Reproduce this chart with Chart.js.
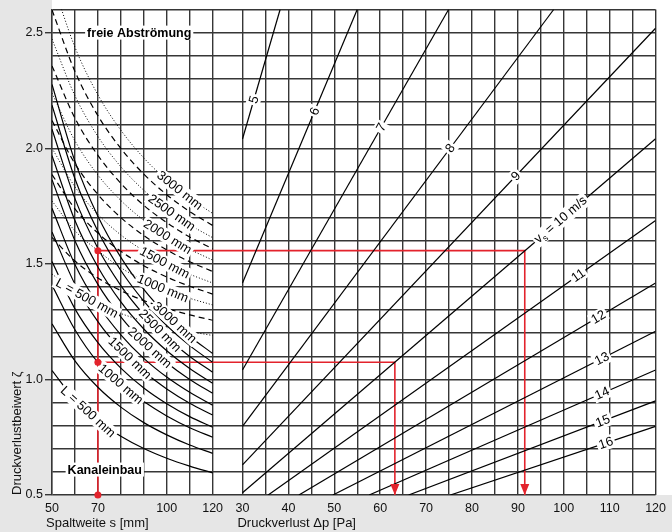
<!DOCTYPE html>
<html>
<head>
<meta charset="utf-8">
<script src="https://cdn.jsdelivr.net/npm/chart.js@4/dist/chart.umd.min.js"></script>
<style>
  html, body { margin: 0; padding: 0; background: #fff; }
  #wrap { width: 672px; height: 532px; }
</style>
</head>
<body>
<div id="wrap"><canvas id="c" width="672" height="532"></canvas></div>
<script>
// ---- axes ---------------------------------------------------------------
const gapTicks = [50, 60, 70, 80, 90, 100, 110, 120];          // Spaltweite s [mm]
const gapTickLabels = [50, 70, 100, 120];
const dpTicks = [30, 35, 40, 45, 50, 55, 60, 65, 70, 75, 80, 85, 90, 95, 100, 105, 110, 115, 120]; // Δp [Pa]
const dpTickLabels = [30, 40, 50, 60, 70, 80, 90, 100, 110, 120];
const zetaTicks = [0.5, 0.6, 0.7, 0.8, 0.9, 1.0, 1.1, 1.2, 1.3, 1.4, 1.5, 1.6, 1.7, 1.8, 1.9, 2.0, 2.1, 2.2, 2.3, 2.4, 2.5, 2.6];
const zetaTickLabels = [0.5, 1.0, 1.5, 2.0, 2.5];

// ---- left block: ζ over gap width s, one curve per slot length L --------
const gapWidths = [50, 60, 70, 80, 90, 100, 110, 120];

// built into a duct (solid)
const ductLengths = [500, 750, 1000, 1250, 1500, 1750, 2000, 2250, 2500, 2750, 3000];
const ductZeta = [
  [1.038, 0.912, 0.821, 0.754, 0.701, 0.659, 0.625, 0.596],
  [1.240, 1.080, 0.966, 0.880, 0.813, 0.760, 0.716, 0.680],
  [1.408, 1.215, 1.074, 0.980, 0.904, 0.842, 0.791, 0.750],
  [1.510, 1.305, 1.159, 1.049, 0.963, 0.895, 0.839, 0.793],
  [1.638, 1.412, 1.250, 1.129, 1.034, 0.959, 0.897, 0.846],
  [1.740, 1.497, 1.323, 1.193, 1.091, 1.010, 0.944, 0.888],
  [1.864, 1.600, 1.411, 1.270, 1.160, 1.072, 1.000, 0.940],
  [1.968, 1.687, 1.486, 1.335, 1.218, 1.124, 1.047, 0.983],
  [2.082, 1.782, 1.567, 1.406, 1.281, 1.181, 1.099, 1.031],
  [2.186, 1.868, 1.641, 1.471, 1.339, 1.233, 1.146, 1.074],
  [2.276, 1.943, 1.706, 1.528, 1.389, 1.278, 1.187, 1.112]
];
const ductLabelLengths = [500, 1000, 1500, 2000, 2500, 3000];
const ductLabelGap = [65.7, 80.0, 83.9, 92.6, 97.0, 103.5];

// free discharge (dotted: labelled lengths, dashed: lengths in between)
const freeLengths = [500, 750, 1000, 1250, 1500, 1750, 2000, 2250, 2500, 2750, 3000];
const freeZeta = [
  [1.456, 1.380, 1.326, 1.285, 1.253, 1.228, 1.207, 1.190],
  [1.614, 1.512, 1.439, 1.384, 1.341, 1.307, 1.279, 1.256],
  [1.772, 1.643, 1.557, 1.483, 1.429, 1.386, 1.351, 1.322],
  [1.886, 1.738, 1.633, 1.554, 1.492, 1.443, 1.403, 1.369],
  [2.000, 1.833, 1.714, 1.625, 1.556, 1.500, 1.455, 1.417],
  [2.120, 1.933, 1.800, 1.700, 1.622, 1.560, 1.509, 1.467],
  [2.238, 2.032, 1.884, 1.774, 1.688, 1.619, 1.563, 1.516],
  [2.356, 2.130, 1.969, 1.848, 1.753, 1.678, 1.616, 1.565],
  [2.472, 2.227, 2.051, 1.920, 1.818, 1.736, 1.669, 1.613],
  [2.598, 2.332, 2.141, 1.999, 1.888, 1.799, 1.726, 1.666],
  [2.724, 2.437, 2.231, 2.078, 1.958, 1.862, 1.784, 1.718]
];
const freeLabelLengths = [500, 1000, 1500, 2000, 2500, 3000];
const freeLabelGap = [65.2, 98.3, 99.1, 100.4, 102.2, 105.7];

// ---- right block: Δp over ζ, one line per slot velocity v_s -------------
const velocities = [5, 6, 7, 8, 9, 10, 11, 12, 13, 14, 15, 16];
const lineStartDp   = [30, 30, 30, 30, 30, 30, 35.6, 42.3, 49.7, 57.6, 66.2, 75.3];
const lineStartZeta = [2.04, 1.417, 1.041, 0.797, 0.630, 0.510, 0.5, 0.5, 0.5, 0.5, 0.5, 0.5];
const lineEndDp     = [38.2, 55.0, 74.9, 97.8, 120, 120, 120, 120, 120, 120, 120, 120];
const lineEndZeta   = [2.6, 2.6, 2.6, 2.6, 2.519, 2.041, 1.687, 1.417, 1.208, 1.041, 0.907, 0.797];
const lineLabelZeta = [2.21, 2.16, 2.09, 2.0, 1.88, 1.69, 1.45, 1.27, 1.09, 0.94, 0.82, 0.725];

// ---- worked example (s = 70 mm, L = 1000 mm, v_s = 10 m/s) --------------
const exampleGap = 70;
const exampleZetaFree = 1.557;
const exampleZetaDuct = 1.074;
const exampleDpFree = 91.5;
const exampleDpDuct = 63.2;

// ---- one shared horizontal scale: left block in mm, right block in Pa ---
const BLOCK_GAP = 1.3;                        // empty strip between both blocks
const sx = s => (s - 50) / 10;                // mm -> scale units
const px = p => 7 + BLOCK_GAP + (p - 30) / 5; // Pa -> scale units

const FONT = '"Liberation Sans", Arial, Helvetica, sans-serif';
const GRID = '#363636';
const RED = '#e3232c';

const xTickValues = gapTicks.map(sx).concat(dpTicks.map(px));
const xTickText = gapTicks.map(s => gapTickLabels.includes(s) ? String(s) : '')
  .concat(dpTicks.map(p => dpTickLabels.includes(p) ? String(p) : ''));

const datasets = [];
const plain = { pointRadius: 0, borderColor: '#000', borderWidth: 1.2, fill: false, parsing: false };

ductZeta.forEach(row => {
  datasets.push(Object.assign({}, plain, {
    data: row.map((z, j) => ({ x: sx(gapWidths[j]), y: z })),
    cubicInterpolationMode: 'monotone'
  }));
});
freeZeta.forEach((row, i) => {
  const dotted = freeLabelLengths.includes(freeLengths[i]);
  datasets.push(Object.assign({}, plain, {
    data: row.map((z, j) => ({ x: sx(gapWidths[j]), y: z })),
    cubicInterpolationMode: 'monotone',
    borderWidth: dotted ? 1 : 1.2,
    borderDash: dotted ? [1, 2] : [6, 4]
  }));
});
velocities.forEach((v, i) => {
  datasets.push(Object.assign({}, plain, {
    data: [{ x: px(lineStartDp[i]), y: lineStartZeta[i] }, { x: px(lineEndDp[i]), y: lineEndZeta[i] }]
  }));
});
// example path
const redLine = { pointRadius: 0, borderColor: RED, borderWidth: 1.6, fill: false, parsing: false };
datasets.push(Object.assign({}, redLine, {
  data: [{ x: sx(exampleGap), y: 0.5 }, { x: sx(exampleGap), y: exampleZetaFree }]
}));
datasets.push(Object.assign({}, redLine, {
  data: [{ x: sx(exampleGap), y: exampleZetaFree }, { x: px(exampleDpFree), y: exampleZetaFree }, { x: px(exampleDpFree), y: 0.5 }]
}));
datasets.push(Object.assign({}, redLine, {
  data: [{ x: sx(exampleGap), y: exampleZetaDuct }, { x: px(exampleDpDuct), y: exampleZetaDuct }, { x: px(exampleDpDuct), y: 0.5 }]
}));

// linear read-out along a tabulated curve
function curveAt(row, s) {
  for (let j = 0; j < gapWidths.length - 1; j++) {
    if (s <= gapWidths[j + 1]) {
      const t = (s - gapWidths[j]) / (gapWidths[j + 1] - gapWidths[j]);
      return row[j] + t * (row[j + 1] - row[j]);
    }
  }
  return row[row.length - 1];
}

function tag(ctx, x, y, angle, drawText, width, h) {
  ctx.save();
  ctx.translate(x, y);
  ctx.rotate(angle);
  ctx.fillStyle = '#fff';
  ctx.fillRect(-width / 2 - 2, -h / 2, width + 4, h);
  ctx.fillStyle = '#000';
  drawText(ctx, -width / 2);
  ctx.restore();
}
function simpleTag(ctx, x, y, angle, text, font) {
  ctx.font = font;
  const w = ctx.measureText(text).width;
  tag(ctx, x, y, angle, (c, x0) => {
    c.font = font; c.textAlign = 'left'; c.textBaseline = 'middle';
    c.fillText(text, x0, 0.5);
  }, w, 14);
}

const background = {
  id: 'background',
  beforeDraw(chart) {
    const { ctx, chartArea: a, width, height } = chart;
    ctx.save();
    ctx.fillStyle = '#fff';
    ctx.fillRect(0, 0, width, height);
    ctx.fillStyle = '#e6e6e6';
    ctx.fillRect(0, 0, a.left, height);
    ctx.fillRect(0, a.bottom, width, height - a.bottom);
    ctx.restore();
  }
};

const annotations = {
  id: 'annotations',
  afterDatasetsDraw(chart) {
    const { ctx, scales: { x, y } } = chart;
    const X = u => x.getPixelForValue(u), Y = z => y.getPixelForValue(z);
    const labelFont = '13px ' + FONT;

    // arrow heads of the example path
    ctx.save();
    ctx.fillStyle = RED;
    [exampleDpFree, exampleDpDuct].forEach(p => {
      const cx = X(px(p)), by = Y(0.5);
      ctx.beginPath();
      ctx.moveTo(cx, by);
      ctx.lineTo(cx - 4.5, by - 11);
      ctx.lineTo(cx + 4.5, by - 11);
      ctx.closePath();
      ctx.fill();
    });
    ctx.restore();

    // velocity labels along the straight lines
    velocities.forEach((v, i) => {
      const p0 = { x: X(px(lineStartDp[i])), y: Y(lineStartZeta[i]) };
      const p1 = { x: X(px(lineEndDp[i])), y: Y(lineEndZeta[i]) };
      const t = (lineLabelZeta[i] - lineStartZeta[i]) / (lineEndZeta[i] - lineStartZeta[i]);
      const cx = p0.x + t * (p1.x - p0.x), cy = p0.y + t * (p1.y - p0.y);
      const ang = Math.atan2(p1.y - p0.y, p1.x - p0.x);
      if (v === 10) {
        const small = '9px ' + FONT;
        ctx.font = labelFont;
        const wv = ctx.measureText('v').width;
        const rest = ' = 10 m/s';
        const wr = ctx.measureText(rest).width;
        ctx.font = small;
        const ws = ctx.measureText('s').width;
        tag(ctx, cx, cy, ang, (c, x0) => {
          c.textAlign = 'left'; c.textBaseline = 'middle';
          c.font = labelFont; c.fillText('v', x0, 0);
          c.font = small; c.fillText('s', x0 + wv, 4);
          c.font = labelFont; c.fillText(rest, x0 + wv + ws, 0);
        }, wv + ws + wr, 15);
      } else {
        simpleTag(ctx, cx, cy, ang, String(v), labelFont);
      }
    });

    // slot length labels in the left block
    const curveLabel = (row, s, text) => {
      const cx = X(sx(s)), cy = Y(curveAt(row, s));
      const xa = X(sx(s - 3)), ya = Y(curveAt(row, s - 3));
      const xb = X(sx(s + 3)), yb = Y(curveAt(row, s + 3));
      simpleTag(ctx, cx, cy, Math.atan2(yb - ya, xb - xa), text, labelFont);
    };
    freeLabelLengths.forEach((L, i) => {
      curveLabel(freeZeta[freeLengths.indexOf(L)], freeLabelGap[i], (L === 500 ? 'L = ' : '') + L + ' mm');
    });
    ductLabelLengths.forEach((L, i) => {
      curveLabel(ductZeta[ductLengths.indexOf(L)], ductLabelGap[i], (L === 500 ? 'L = ' : '') + L + ' mm');
    });

    // family titles
    const bold = 'bold 12.5px ' + FONT;
    simpleTag(ctx, X(sx(88)), Y(2.5), 0, 'freie Abströmung', bold);
    simpleTag(ctx, X(sx(73)), Y(0.61), 0, 'Kanaleinbau', bold);

    // example points
    ctx.save();
    ctx.fillStyle = RED;
    [exampleZetaFree, exampleZetaDuct, 0.5].forEach(z => {
      ctx.beginPath();
      ctx.arc(X(sx(exampleGap)), Y(z), 3.5, 0, Math.PI * 2);
      ctx.fill();
    });
    ctx.restore();
  },
  afterDraw(chart) {
    const { ctx, scales: { x, y } } = chart;
    const X = u => x.getPixelForValue(u), Y = z => y.getPixelForValue(z);
    ctx.save();
    ctx.fillStyle = '#111';
    ctx.font = '13px ' + FONT;
    ctx.textBaseline = 'middle';
    ctx.textAlign = 'left';
    ctx.fillText('Spaltweite s [mm]', X(sx(50)) - 6, 523);
    ctx.fillText('Druckverlust Δp [Pa]', X(px(30)) - 5, 523);
    ctx.translate(17, Y(0.5));
    ctx.rotate(-Math.PI / 2);
    ctx.fillText('Druckverlustbeiwert ζ', 0, 0);
    ctx.restore();
  }
};

new Chart(document.getElementById('c'), {
  type: 'line',
  data: { datasets },
  options: {
    responsive: false,
    animation: false,
    devicePixelRatio: 1,
    events: [],
    layout: { padding: { top: 8, right: 12, left: 0, bottom: 0 } },
    plugins: { legend: { display: false }, tooltip: { enabled: false } },
    scales: {
      x: {
        type: 'linear',
        min: sx(50),
        max: px(120),
        afterBuildTicks(scale) { scale.ticks = xTickValues.map(v => ({ value: v })); },
        afterFit(scale) { scale.height = 37; },
        ticks: {
          autoSkip: false, maxRotation: 0, padding: 6, color: '#111',
          font: { family: FONT, size: 12.5 },
          callback: (v, i) => xTickText[i]
        },
        grid: { color: GRID, lineWidth: 1.4, drawTicks: false },
        border: { display: false }
      },
      y: {
        type: 'linear',
        min: 0.5,
        max: 2.6,
        afterBuildTicks(scale) { scale.ticks = zetaTicks.map(v => ({ value: v })); },
        afterFit(scale) { scale.width = 52; },
        ticks: {
          autoSkip: false, padding: 2, color: '#111',
          font: { family: FONT, size: 12.5 },
          callback: v => zetaTickLabels.some(t => Math.abs(t - v) < 1e-6) ? v.toFixed(1) : ''
        },
        grid: {
          color: GRID, lineWidth: 1.4, tickLength: 7,
          tickColor: c => zetaTickLabels.some(t => Math.abs(t - c.tick.value) < 1e-6) ? GRID : 'rgba(0,0,0,0)'
        },
        border: { display: true, color: GRID, width: 1.4 }
      }
    }
  },
  plugins: [background, annotations]
});
</script>
</body>
</html>
